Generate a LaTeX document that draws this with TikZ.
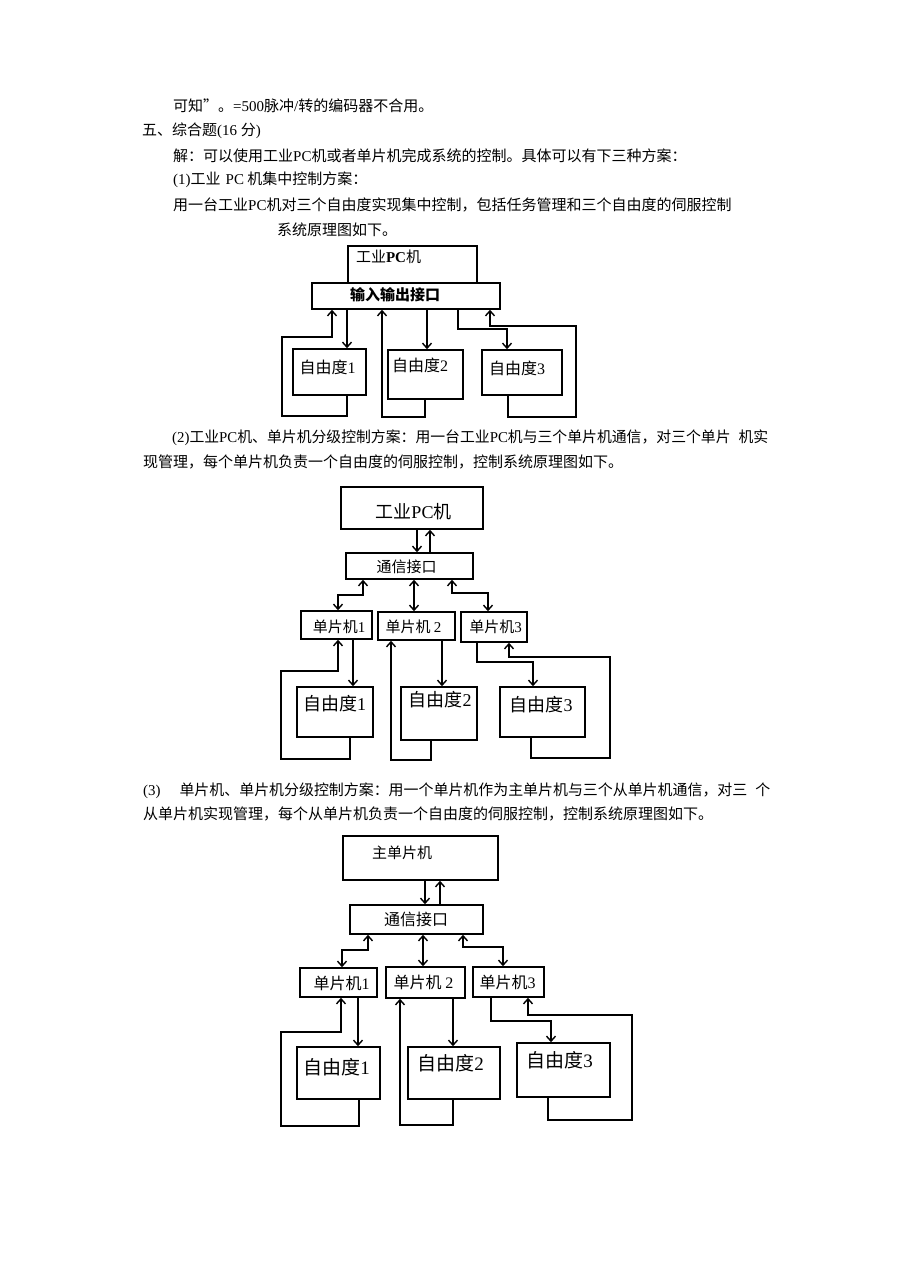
\documentclass[tikz,border=0pt]{standalone}
\usepackage{fontspec}
\usepackage{graphicx}
\setmainfont{Liberation Serif}
\newfontfamily\cjk{Noto Sans CJK SC}
\newfontfamily\latf{Liberation Serif}
\newcommand\la[1]{{\latf #1}}
\usetikzlibrary{arrows.meta}
\begin{document}
\begin{tikzpicture}[x=1pt,y=-1pt,
  body/.style={anchor=west,inner sep=0pt,font=\fontsize{15}{18}\selectfont\cjk},
  box/.style={draw,line width=1.6pt,inner sep=0pt},
  lbl/.style={inner sep=0pt},
  fa/.style={font=\fontsize{15}{15}\selectfont\cjk},
  fb/.style={font=\fontsize{18}{18}\selectfont\cjk},
  fc/.style={font=\fontsize{19}{19}\selectfont\cjk},
  fs/.style={font=\fontsize{16}{16}\selectfont\cjk},
  con/.style={line width=1.4pt},
  arr/.style={con,-{Straight Barb[length=5pt,width=9pt]}},
  barr/.style={con,{Straight Barb[length=5pt,width=9pt]}-{Straight Barb[length=5pt,width=9pt]}}
]
\useasboundingbox[fill=white] (0,0) rectangle (920,1268);

% ---------------- body text ----------------
\node[body] (p1a) at (173,106) {可知”。\la{=500}脉冲\la{/}转的编码器不合用。};
\node[body] (p1b) at (142,131) {五、综合题\la{(16 }分\la{)}};
\node[body] (p1c) at (173,156) {解：可以使用工业\la{PC}机或者单片机完成系统的控制。具体可以有下三种方案：};
\node[body] (p1d) at (173,180) {\la{(1)}工业\hspace{5pt}\la{PC} 机集中控制方案：};
\node[body] (p1e) at (173,205) {用一台工业\la{PC}机对三个自由度实现集中控制，包括任务管理和三个自由度的伺服控制};
\node[body] (p1f) at (277,230) {系统原理图如下。};

\node[body] (p2a) at (172,438) {\resizebox{596pt}{\height}{\la{(2)}工业\la{PC}机、单片机分级控制方案：用一台工业\la{PC}机与三个单片机通信，对三个单片\hspace{8pt}机实}};
\node[body] (p2b) at (143,462) {现管理，每个单片机负责一个自由度的伺服控制，控制系统原理图如下。};

\node[body] (p3a) at (143,791) {\resizebox{627pt}{\height}{\la{(3)}\hspace{19pt}单片机、单片机分级控制方案：用一个单片机作为主单片机与三个从单片机通信，对三\hspace{8pt}个}};
\node[body] (p3b) at (143,814) {从单片机实现管理，每个从单片机负责一个自由度的伺服控制，控制系统原理图如下。};

% ---------------- diagram 1 ----------------
\node[box,minimum width=129pt,minimum height=37pt] (pc1) at (412.5,264.5) {};
\node[box,minimum width=188pt,minimum height=26pt] (io1) at (406,296) {};
\node[box,minimum width=73pt,minimum height=46pt] (f11) at (329.5,372) {};
\node[box,minimum width=75pt,minimum height=49pt] (f12) at (425.5,374.5) {};
\node[box,minimum width=80pt,minimum height=45pt] (f13) at (522,372.5) {};

\node[lbl,fa] (l-pc1) at (388.5,257) {工业\la{\textbf{PC}}机};
\node[lbl,fa] (l-io1) at (395,295) {\textbf{输入输出接口}};
\node[lbl,fs] (l-f11) at (327.5,367) {自由度\la{1}};
\node[lbl,fs] (l-f12) at (420,365) {自由度\la{2}};
\node[lbl,fs] (l-f13) at (517,368) {自由度\la{3}};

\draw[arr] (io1.south -| 347,0) -- (f11.north -| 347,0);
\draw[arr] (f11.south -| 347,0) -- (347,416) -- (282,416) -- (282,337) -- (332,337) -- (io1.south -| 332,0);
\draw[arr] (io1.south -| 427,0) -- (f12.north -| 427,0);
\draw[arr] (f12.south -| 425,0) -- (425,417) -- (382,417) -- (io1.south -| 382,0);
\draw[arr] (io1.south -| 458,0) -- (458,329) -- (507,329) -- (f13.north -| 507,0);
\draw[arr] (f13.south -| 508,0) -- (508,417) -- (576,417) -- (576,326) -- (490,326) -- (io1.south -| 490,0);

% ---------------- diagram 2 ----------------
\node[box,minimum width=142pt,minimum height=42pt] (pc2) at (412,508) {};
\node[box,minimum width=127pt,minimum height=26pt] (ci2) at (409.5,566) {};
\node[box,minimum width=71pt,minimum height=28pt] (s21) at (336.5,625) {};
\node[box,minimum width=77pt,minimum height=28pt] (s22) at (416.5,626) {};
\node[box,minimum width=66pt,minimum height=30pt] (s23) at (494,627) {};
\node[box,minimum width=76pt,minimum height=50pt] (f21) at (335,712) {};
\node[box,minimum width=76pt,minimum height=53pt] (f22) at (439,713.5) {};
\node[box,minimum width=85pt,minimum height=50pt] (f23) at (542.5,712) {};

\node[lbl,fb] (l-pc2) at (413.5,512) {工业\la{PC}机};
\node[lbl,fa] (l-ci2) at (406.5,567) {通信接口};
\node[lbl,fa] (l-s21) at (339,627) {单片机\la{1}};
\node[lbl,fa] (l-s22) at (413.5,627) {单片机 \la{2}};
\node[lbl,fa] (l-s23) at (495.5,627) {单片机\la{3}};
\node[lbl,fb] (l-f21) at (334.5,704) {自由度\la{1}};
\node[lbl,fb] (l-f22) at (440,700) {自由度\la{2}};
\node[lbl,fb] (l-f23) at (541,705) {自由度\la{3}};

\draw[arr] (pc2.south -| 417,0) -- (ci2.north -| 417,0);
\draw[arr] (ci2.north -| 430,0) -- (pc2.south -| 430,0);
\draw[barr] (ci2.south -| 363,0) -- (363,595) -- (338,595) -- (s21.north -| 338,0);
\draw[barr] (ci2.south -| 414,0) -- (s22.north -| 414,0);
\draw[barr] (ci2.south -| 452,0) -- (452,593) -- (488,593) -- (s23.north -| 488,0);
\draw[arr] (s21.south -| 353,0) -- (f21.north -| 353,0);
\draw[arr] (f21.south -| 350,0) -- (350,759) -- (281,759) -- (281,671) -- (338,671) -- (s21.south -| 338,0);
\draw[arr] (s22.south -| 442,0) -- (f22.north -| 442,0);
\draw[arr] (f22.south -| 431,0) -- (431,760) -- (391,760) -- (s22.south -| 391,0);
\draw[arr] (s23.south -| 477,0) -- (477,662) -- (533,662) -- (f23.north -| 533,0);
\draw[arr] (f23.south -| 531,0) -- (531,758) -- (610,758) -- (610,657) -- (509,657) -- (s23.south -| 509,0);

% ---------------- diagram 3 ----------------
\node[box,minimum width=155pt,minimum height=44pt] (pc3) at (420.5,858) {};
\node[box,minimum width=133pt,minimum height=29pt] (ci3) at (416.5,919.5) {};
\node[box,minimum width=77pt,minimum height=29pt] (s31) at (338.5,982.5) {};
\node[box,minimum width=79pt,minimum height=31pt] (s32) at (425.5,982.5) {};
\node[box,minimum width=71pt,minimum height=30pt] (s33) at (508.5,982) {};
\node[box,minimum width=83pt,minimum height=52pt] (f31) at (338.5,1073) {};
\node[box,minimum width=92pt,minimum height=52pt] (f32) at (454,1073) {};
\node[box,minimum width=93pt,minimum height=54pt] (f33) at (563.5,1070) {};

\node[lbl,fa] (l-pc3) at (402,853) {主单片机};
\node[lbl,fs] (l-ci3) at (416,919) {通信接口};
\node[lbl,fs] (l-s31) at (341.5,983) {单片机\la{1}};
\node[lbl,fs] (l-s32) at (423.5,982) {单片机 \la{2}};
\node[lbl,fs] (l-s33) at (507.5,982) {单片机\la{3}};
\node[lbl,fc] (l-f31) at (336.5,1067) {自由度\la{1}};
\node[lbl,fc] (l-f32) at (450.5,1063) {自由度\la{2}};
\node[lbl,fc] (l-f33) at (559.5,1060) {自由度\la{3}};

\draw[arr] (pc3.south -| 425,0) -- (ci3.north -| 425,0);
\draw[arr] (ci3.north -| 440,0) -- (pc3.south -| 440,0);
\draw[barr] (ci3.south -| 368,0) -- (368,950) -- (342,950) -- (s31.north -| 342,0);
\draw[barr] (ci3.south -| 423,0) -- (s32.north -| 423,0);
\draw[barr] (ci3.south -| 463,0) -- (463,947) -- (503,947) -- (s33.north -| 503,0);
\draw[arr] (s31.south -| 358,0) -- (f31.north -| 358,0);
\draw[arr] (f31.south -| 359,0) -- (359,1126) -- (281,1126) -- (281,1032) -- (341,1032) -- (s31.south -| 341,0);
\draw[arr] (s32.south -| 453,0) -- (f32.north -| 453,0);
\draw[arr] (f32.south -| 453,0) -- (453,1125) -- (400,1125) -- (s32.south -| 400,0);
\draw[arr] (s33.south -| 491,0) -- (491,1021) -- (551,1021) -- (f33.north -| 551,0);
\draw[arr] (f33.south -| 548,0) -- (548,1120) -- (632,1120) -- (632,1015) -- (528,1015) -- (s33.south -| 528,0);
\end{tikzpicture}
\end{document}
